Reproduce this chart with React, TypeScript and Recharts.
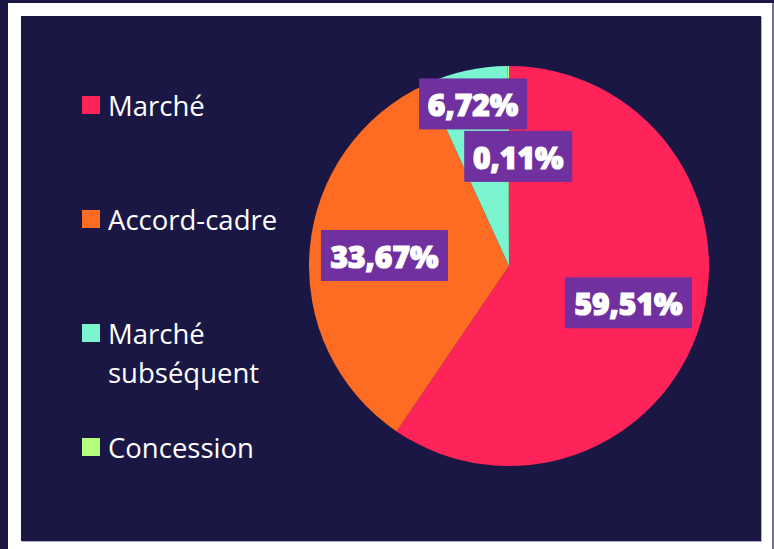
import React from 'react';
import { PieChart, Pie, Cell } from 'recharts';

const categories = ['Marché', 'Accord-cadre', 'Marché subséquent', 'Concession'];
const shares = [59.51, 33.67, 6.72, 0.11];
const colors = ['#fe2358', '#fe6c23', '#7af5d0', '#b4fd7e'];
// label distance from centre and angle nudge, per slice (the two small ones are spread apart)
const labelRadius = [125, 125, 166, 110];
const labelNudge = [0, 0, 0, -5];

const data = categories.map((name, i) => ({ name, value: shares[i] }));

const RAD = Math.PI / 180;
const fmt = (v: number) => v.toFixed(2).replace('.', ',') + '%';

const textWidth = (s: string) =>
  s.split('').reduce((w, ch) => w + (ch === ',' ? 8 : ch === '%' ? 27 : 19), 0);

const renderLabel = (props: any) => {
  const { cx, cy, midAngle, index, value } = props;
  const r = labelRadius[index];
  const a = (midAngle + labelNudge[index]) * RAD;
  const x = cx + r * Math.cos(-a);
  const y = cy + r * Math.sin(-a);
  const txt = fmt(value);
  const w = textWidth(txt) + 16;
  const h = 51;
  return (
    <g>
      <rect x={x - w / 2} y={y - h / 2} width={w} height={h} fill="#7030a0" />
      <text
        x={x}
        y={y + 1}
        fill="#ffffff"
        stroke="#ffffff"
        strokeWidth={1.2}
        textAnchor="middle"
        dominantBaseline="central"
        fontFamily="'Open Sans', sans-serif"
        fontWeight={800}
        fontSize={30}
      >
        {txt}
      </text>
    </g>
  );
};

function LegendBlock() {
  return (
    <div
      style={{
        position: 'absolute',
        left: 61,
        top: 70,
        fontFamily: "'Open Sans', sans-serif",
        color: '#ffffff',
      }}
    >
      {categories.map((name, i) => (
        <div key={name} style={{ display: 'flex', alignItems: 'flex-start', height: 114, width: 240 }}>
          <div
            style={{
              width: 18,
              height: 18,
              background: colors[i],
              marginTop: 10,
              marginRight: 8,
              flexShrink: 0,
            }}
          />
          <div style={{ fontSize: 27.5, lineHeight: '39px', width: 195 }}>{name}</div>
        </div>
      ))}
    </div>
  );
}

export default function App() {
  return (
    <div
      style={{
        position: 'fixed',
        left: 0,
        top: 0,
        width: 774,
        height: 549,
        background: '#ffffff',
        overflow: 'hidden',
      }}
    >
      <div style={{ position: 'absolute', left: 0, top: 0, width: 774, height: 3, background: '#1b1744' }} />
      <div style={{ position: 'absolute', left: 0, top: 0, width: 8, height: 549, background: '#1b1744' }} />
      <div style={{ position: 'absolute', left: 772, top: 3, width: 2, height: 546, background: '#77738f' }} />
      <div
        style={{
          position: 'absolute',
          left: 21,
          top: 16,
          width: 740,
          height: 525,
          background: '#1b1744',
          boxShadow: '1px 1px 0 #b3aed0',
        }}
      >
        <PieChart width={740} height={525} style={{ position: 'absolute', left: 0, top: 0 }}>
          <Pie
            data={data}
            dataKey="value"
            nameKey="name"
            cx={483}
            cy={245}
            outerRadius={200}
            startAngle={90}
            endAngle={-270}
            stroke="none"
            label={renderLabel}
            labelLine={false}
            isAnimationActive={false}
          >
            {data.map((d, i) => (
              <Cell key={d.name} fill={colors[i]} />
            ))}
          </Pie>
        </PieChart>
        <LegendBlock />
      </div>
    </div>
  );
}
